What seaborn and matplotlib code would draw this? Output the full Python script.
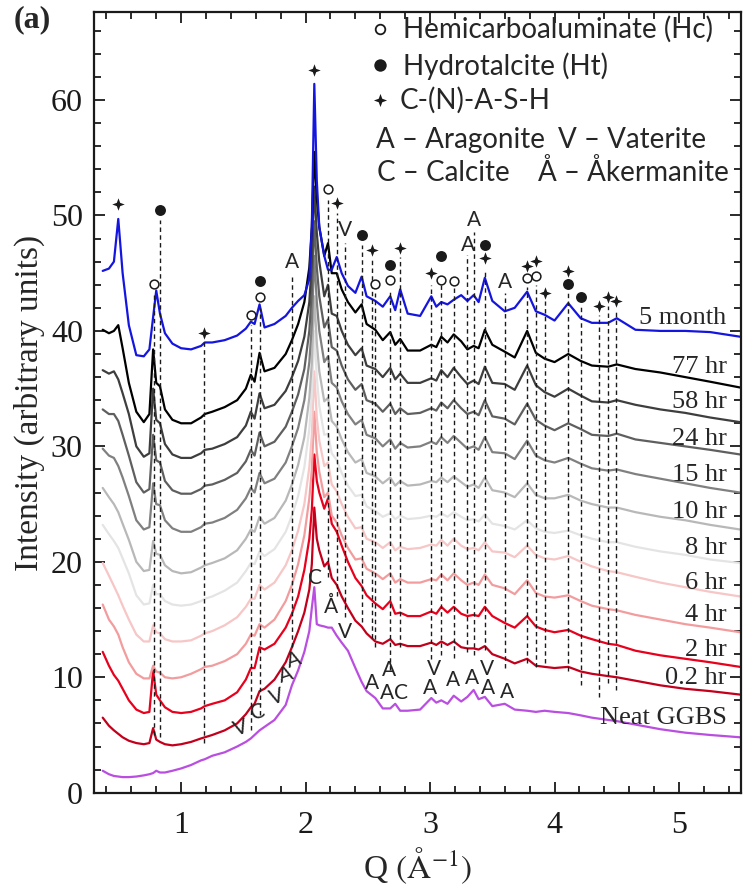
import matplotlib
matplotlib.use("Agg")
import numpy as np
import pandas as pd
import seaborn as sns
import matplotlib.pyplot as plt
from matplotlib.path import Path
from matplotlib.ticker import MultipleLocator

# ---------------- data ----------------
Q = [0.37, 0.42, 0.46, 0.495, 0.53, 0.58, 0.64, 0.70, 0.745, 0.775,
     0.80, 0.83, 0.87, 0.93, 1.00, 1.08, 1.16, 1.19, 1.25, 1.35,
     1.45, 1.52, 1.56, 1.59, 1.63, 1.67, 1.75, 1.84, 1.89, 1.94,
     1.99, 2.03, 2.05, 2.07, 2.09, 2.11, 2.15, 2.18, 2.21, 2.25,
     2.29, 2.34, 2.40, 2.45, 2.49, 2.56, 2.62, 2.68, 2.72, 2.76,
     2.82, 2.92, 3.01, 3.05, 3.09, 3.14, 3.19, 3.25, 3.30, 3.35,
     3.39, 3.44, 3.50, 3.60, 3.68, 3.78, 3.85, 3.92, 4.00, 4.11,
     4.21, 4.30, 4.43, 4.50, 4.65, 4.85, 5.05, 5.25, 5.49]

I_5month = [45.2, 45.4, 46.0, 49.7, 45.0, 40.5, 37.9, 37.8, 38.4, 41.2,
            43.5, 41.5, 39.8, 38.9, 38.5, 38.4, 38.7, 39.0, 39.0, 39.2,
            39.6, 40.2, 40.8, 40.6, 42.3, 40.3, 40.6, 41.3, 42.0, 42.6,
            43.1, 44.5, 49.0, 61.4, 53.0, 49.0, 46.5, 45.3, 45.3, 46.4,
            45.0, 43.9, 43.3, 44.7, 43.0, 42.6, 42.1, 43.0, 41.8, 43.6,
            41.5, 41.3, 43.0, 42.1, 42.5, 42.3, 42.7, 43.1, 42.6, 43.1,
            42.5, 44.6, 42.6, 41.7, 42.0, 43.4, 41.7, 41.4, 40.9, 42.4,
            41.1, 40.7, 40.7, 41.1, 40.1, 40.0, 40.0, 39.9, 39.5]
I_77hr = [40.1, 39.8, 40.0, 40.5, 38.5, 35.5, 33.0, 32.1, 32.8, 38.4,
          35.5, 35.2, 33.2, 32.3, 32.0, 32.0, 32.5, 32.8, 33.0, 33.4,
          34.0, 35.0, 36.2, 35.6, 38.1, 36.5, 36.8, 38.0, 39.2, 40.6,
          42.5, 45.5, 49.0, 55.5, 51.5, 49.0, 46.5, 47.6, 45.0, 45.0,
          43.6, 42.5, 41.6, 42.3, 40.6, 40.1, 39.2, 39.9, 38.8, 39.3,
          38.3, 38.3, 38.8, 38.6, 39.5, 39.0, 39.7, 39.1, 38.4, 38.7,
          38.5, 40.1, 38.8, 38.2, 37.7, 40.0, 38.1, 37.6, 37.3, 38.0,
          37.4, 37.0, 36.9, 37.1, 36.7, 36.4, 36.0, 35.6, 35.1]
I_58hr = [36.6, 36.3, 36.5, 35.8, 34.6, 32.8, 30.0, 29.1, 29.4, 35.0,
          32.3, 32.0, 30.2, 29.3, 29.0, 29.0, 29.4, 29.7, 29.8, 30.2,
          30.8, 31.8, 33.0, 32.4, 34.6, 33.3, 33.6, 34.8, 36.0, 37.4,
          39.5, 42.5, 46.0, 52.5, 48.5, 46.0, 43.0, 44.0, 41.5, 41.3,
          40.0, 38.8, 37.9, 38.5, 37.0, 36.7, 36.0, 36.8, 35.8, 36.3,
          35.5, 35.5, 35.9, 35.7, 36.6, 36.0, 36.8, 36.0, 35.4, 35.7,
          35.4, 36.9, 35.5, 35.4, 34.9, 37.0, 35.3, 34.7, 34.3, 35.0,
          34.4, 33.9, 33.8, 34.0, 33.6, 33.2, 32.9, 32.5, 32.1]
I_24hr = [33.2, 32.8, 32.8, 32.2, 31.0, 29.2, 26.9, 26.0, 26.3, 31.0,
          28.8, 28.6, 27.0, 26.2, 25.9, 25.9, 26.3, 26.6, 26.7, 27.1,
          27.7, 28.7, 29.7, 29.2, 31.2, 30.0, 30.4, 31.7, 33.0, 34.5,
          36.7, 40.0, 43.5, 49.5, 45.5, 43.0, 40.3, 41.0, 38.6, 38.3,
          37.0, 35.8, 34.9, 35.4, 34.0, 33.7, 33.0, 33.7, 32.8, 33.3,
          32.8, 32.9, 33.3, 33.1, 33.8, 33.3, 34.0, 33.3, 32.8, 33.0,
          32.7, 34.0, 32.6, 32.4, 31.9, 33.7, 32.3, 31.8, 31.4, 32.0,
          31.5, 31.0, 30.9, 31.1, 30.6, 30.3, 30.0, 29.7, 29.3]
I_15hr = [29.8, 29.2, 29.0, 28.3, 27.3, 25.7, 23.6, 22.8, 23.0, 26.8,
          25.0, 24.9, 23.6, 22.9, 22.6, 22.6, 23.0, 23.3, 23.4, 23.8,
          24.5, 25.5, 26.4, 26.0, 27.7, 26.8, 27.2, 28.6, 30.0, 31.6,
          34.0, 37.3, 40.5, 46.5, 42.5, 40.0, 37.3, 37.8, 35.5, 35.1,
          33.9, 32.8, 31.9, 32.3, 31.0, 30.7, 30.0, 30.6, 29.8, 30.3,
          29.9, 30.0, 30.4, 30.2, 30.8, 30.3, 30.9, 30.3, 29.8, 30.0,
          29.7, 30.8, 29.5, 29.4, 28.9, 30.5, 29.2, 28.8, 28.6, 29.0,
          28.5, 28.1, 27.9, 28.0, 27.6, 27.2, 26.8, 26.4, 26.0]
I_10hr = [26.4, 25.6, 25.0, 24.3, 23.3, 21.9, 20.0, 19.2, 19.3, 21.8,
          20.7, 20.6, 19.7, 19.2, 19.0, 19.1, 19.5, 19.7, 19.9, 20.3,
          21.0, 22.0, 22.8, 22.6, 23.9, 23.3, 23.8, 25.3, 26.7, 28.4,
          30.8, 34.2, 37.2, 43.0, 39.0, 36.5, 33.9, 34.2, 32.2, 31.7,
          30.6, 29.5, 28.6, 28.9, 27.7, 27.4, 26.8, 27.3, 26.6, 27.0,
          26.6, 26.7, 27.0, 26.9, 27.3, 26.9, 27.4, 26.9, 26.5, 26.7,
          26.4, 27.3, 26.2, 26.0, 25.6, 26.8, 25.8, 25.5, 25.5, 25.8,
          25.3, 25.0, 24.7, 24.7, 24.3, 23.9, 23.6, 23.2, 22.8]
I_8hr = [23.2, 22.4, 21.8, 21.2, 20.3, 19.0, 17.1, 16.3, 16.4, 18.0,
         17.2, 17.2, 16.6, 16.3, 16.2, 16.3, 16.6, 16.8, 17.0, 17.5,
         18.2, 19.2, 19.9, 19.8, 20.9, 20.5, 21.1, 22.6, 24.0, 25.7,
         28.2, 31.5, 34.5, 40.0, 36.0, 33.5, 31.0, 31.1, 29.4, 28.8,
         27.7, 26.6, 25.7, 25.8, 24.8, 24.4, 23.9, 24.2, 23.7, 24.0,
         23.7, 23.8, 24.0, 23.9, 24.2, 23.9, 24.3, 23.9, 23.6, 23.7,
         23.5, 24.1, 23.3, 23.1, 22.8, 23.6, 22.9, 22.6, 22.5, 22.7,
         22.3, 22.0, 21.7, 21.7, 21.3, 20.9, 20.6, 20.2, 19.9]
I_6hr = [19.9, 18.8, 17.9, 17.1, 16.2, 15.0, 13.7, 13.1, 13.1, 14.5,
         13.9, 13.8, 13.3, 13.1, 13.1, 13.2, 13.6, 13.8, 14.0, 14.5,
         15.2, 16.1, 16.8, 16.8, 18.0, 17.6, 18.2, 19.7, 21.0, 22.7,
         25.0, 28.2, 31.0, 36.5, 32.5, 30.5, 28.3, 28.6, 26.7, 26.1,
         25.0, 23.9, 22.9, 23.0, 22.0, 21.7, 21.2, 21.7, 21.0, 21.3,
         21.1, 21.2, 21.5, 21.4, 21.9, 21.4, 22.0, 21.4, 21.1, 21.2,
         21.0, 21.7, 20.9, 20.8, 20.4, 21.4, 20.6, 20.3, 20.2, 20.5,
         20.0, 19.6, 19.2, 19.1, 18.7, 18.2, 17.8, 17.4, 17.0]
I_4hr = [16.3, 15.0, 14.4, 13.7, 12.6, 11.3, 10.3, 9.9, 9.9, 11.0,
         10.5, 10.4, 10.0, 9.9, 10.0, 10.3, 10.7, 10.9, 11.0, 11.4,
         12.0, 12.9, 13.7, 13.6, 14.6, 14.3, 15.0, 16.6, 18.0, 19.8,
         22.3, 25.5, 28.0, 33.0, 29.5, 27.8, 25.6, 26.0, 24.0, 23.4,
         22.3, 21.2, 20.2, 20.3, 19.4, 19.0, 18.5, 19.0, 18.2, 18.5,
         18.2, 18.2, 18.5, 18.4, 18.9, 18.4, 19.0, 18.4, 18.0, 18.2,
         18.0, 18.9, 18.0, 17.7, 17.2, 18.4, 17.3, 17.0, 16.9, 17.1,
         16.6, 16.2, 15.9, 15.8, 15.4, 15.0, 14.6, 14.3, 13.9]
I_2hr = [12.2, 11.0, 10.2, 9.7, 9.0, 8.0, 7.2, 6.9, 7.0, 10.6,
         8.5, 8.0, 7.4, 7.0, 6.9, 7.0, 7.3, 7.5, 7.7, 8.0,
         8.7, 9.8, 10.8, 10.8, 12.6, 12.4, 12.9, 14.3, 15.5, 17.0,
         19.3, 22.0, 24.5, 29.3, 27.0, 26.0, 24.6, 25.5, 23.3, 22.6,
         21.4, 20.0, 18.6, 17.9, 17.1, 16.4, 15.9, 16.6, 15.5, 15.6,
         15.3, 15.3, 15.7, 15.5, 16.1, 15.6, 16.1, 15.5, 15.3, 15.4,
         15.3, 16.1, 15.3, 14.7, 14.3, 15.3, 14.4, 14.1, 13.9, 14.1,
         13.6, 13.3, 12.9, 12.8, 12.3, 11.9, 11.6, 11.3, 10.9]
I_02hr = [6.5, 5.8, 5.4, 5.1, 4.8, 4.5, 4.3, 4.2, 4.3, 5.6,
          4.6, 4.4, 4.2, 4.1, 4.2, 4.4, 4.7, 4.8, 5.0, 5.4,
          6.0, 6.8, 7.4, 7.7, 8.8, 9.0, 9.8, 11.3, 12.6, 14.0,
          15.6, 17.6, 19.8, 24.7, 22.0, 21.0, 19.6, 20.0, 18.6, 18.0,
          17.0, 16.0, 14.9, 14.4, 13.8, 13.1, 12.9, 13.3, 12.8, 12.9,
          12.7, 12.7, 13.0, 12.8, 13.1, 12.8, 13.1, 12.6, 12.5, 12.5,
          12.4, 12.7, 12.0, 11.6, 11.2, 11.6, 11.0, 10.9, 10.8, 10.9,
          10.5, 10.3, 10.1, 10.0, 9.7, 9.3, 9.0, 8.8, 8.5]
I_neat = [1.9, 1.6, 1.45, 1.4, 1.35, 1.35, 1.4, 1.5, 1.6, 1.7,
          1.9, 1.75, 1.75, 1.9, 2.1, 2.4, 2.8, 2.9, 3.2, 3.5,
          4.0, 4.4, 4.7, 5.0, 5.4, 5.7, 6.3, 7.6, 9.3, 10.6,
          12.2, 14.0, 16.0, 17.8, 14.6, 14.5, 14.4, 14.3, 14.3, 13.6,
          13.0, 12.3, 10.8, 9.6, 8.8, 8.2, 7.3, 7.3, 7.7, 7.1,
          7.1, 7.2, 8.2, 7.8, 8.0, 7.7, 8.4, 7.9, 8.3, 8.9,
          8.1, 8.3, 7.5, 7.7, 7.2, 7.1, 7.0, 7.1, 7.0, 6.9,
          6.7, 6.5, 6.3, 6.2, 5.9, 5.5, 5.2, 5.0, 4.8]

samples = ["Neat GGBS", "0.2 hr", "2 hr", "4 hr", "6 hr", "8 hr", "10 hr",
           "15 hr", "24 hr", "58 hr", "77 hr", "5 month"]
curves = [I_neat, I_02hr, I_2hr, I_4hr, I_6hr, I_8hr, I_10hr,
          I_15hr, I_24hr, I_58hr, I_77hr, I_5month]
colors = ["#b94ee0", "#c2001c", "#e8001c", "#f29c9e", "#f7c6c6", "#e4e4e4",
          "#b8b8b8", "#808080", "#5f5f5f", "#3e3e3e", "#000000", "#1515e0"]
label_y = [6.5, 9.9, 12.4, 15.4, 18.2, 21.2, 24.3, 27.5, 30.6, 33.8, 36.9, 41.1]

# reference (dashed) lines
vline_q = [0.78, 0.83, 1.185, 1.56, 1.63, 1.89, 2.18, 2.25, 2.32, 2.45, 2.53,
           2.56, 2.68, 2.76, 3.01, 3.09, 3.19, 3.30, 3.35, 3.44, 3.60, 3.78,
           3.85, 3.92, 4.11, 4.21, 4.36, 4.43, 4.49]
vline_top = [43.3, 49.6, 39.0, 40.5, 42.0, 44.8, 51.3, 50.2, 47.6, 47.4, 46.2,
             43.3, 43.5, 46.4, 44.0, 44.4, 44.2, 46.6, 48.6, 45.4, 43.3, 43.8,
             44.0, 42.6, 43.3, 42.2, 41.4, 42.2, 41.9]
vline_bot = [5.0, 4.8, 4.3, 5.4, 6.7, 12.6, 18.7, 17.0, 15.2, 14.8, 13.4, 12.6,
             10.6, 12.6, 11.6, 11.9, 11.7, 12.2, 11.9, 12.4, 10.8, 11.2, 10.9,
             11.2, 10.5, 9.3, 8.3, 9.5, 8.9]

# phase markers
star_q = [0.494, 1.185, 2.07, 2.25, 2.53, 2.76, 3.01, 3.44, 3.78, 3.85, 3.92,
          4.11, 4.36, 4.43, 4.49]
star_i = [51.0, 39.8, 62.6, 51.1, 47.0, 47.2, 45.0, 46.3, 45.6, 46.1, 43.3,
          45.2, 42.2, 42.9, 42.6]
dot_q = [0.83, 1.63, 2.45, 2.68, 3.09, 3.44, 4.11, 4.21]
dot_i = [50.5, 44.3, 48.3, 45.7, 46.5, 47.4, 44.1, 42.9]
circ_q = [0.78, 1.56, 1.63, 2.18, 2.56, 2.68, 3.09, 3.19, 3.78, 3.85]
circ_i = [44.1, 41.4, 42.9, 52.3, 44.1, 44.4, 44.4, 44.3, 44.6, 44.8]

# phase letters: (text, Q, I, rotation)
letters = [("A", 1.891, 46.0, 0), ("V", 2.316, 48.7, 0), ("A", 3.352, 49.6, 0),
           ("A", 3.303, 47.4, 0), ("A", 3.600, 44.2, 0),
           ("C", 2.075, 18.6, 0), ("Å", 2.204, 16.1, 0), ("V", 2.316, 13.9, 0),
           ("A", 2.533, 9.5, 0), ("A", 2.669, 10.6, 0), ("A", 2.653, 8.6, 0),
           ("C", 2.766, 8.6, 0), ("A", 2.998, 9.1, 0), ("V", 3.030, 10.7, 0),
           ("A", 3.183, 9.76, 0), ("A", 3.335, 9.93, 0), ("V", 3.456, 10.75, 0),
           ("A", 3.464, 9.1, 0), ("A", 3.616, 8.72, 0),
           ("V", 1.48, 5.6, 18), ("C", 1.618, 7.0, 18), ("V", 1.77, 8.3, 18),
           ("A", 1.84, 10.2, 18), ("A", 1.905, 11.5, 18)]

# ---------------- plot ----------------
sns.set_theme(style="ticks")
plt.rcParams['font.family'] = ['Liberation Serif', 'DejaVu Serif']
plt.rcParams['mathtext.fontset'] = 'stix'
SANS = ['Lato', 'DejaVu Sans']

fig = plt.figure(figsize=(7.43, 8.86), dpi=100)
ax = fig.add_axes([94 / 743, 1 - 792.7 / 886, (740.5 - 94) / 743, (792.7 - 12.3) / 886])

df = pd.concat([pd.DataFrame({"Q": Q, "I": v, "sample": s})
                for s, v in zip(samples, curves)], ignore_index=True)
sns.lineplot(data=df, x="Q", y="I", hue="sample", hue_order=samples,
             palette=colors, legend=False, ax=ax, linewidth=1.6,
             estimator=None, errorbar=None, sort=False)

ax.vlines(vline_q, vline_bot, vline_top, colors="k", linestyles=(0, (3.2, 2.4)),
          linewidth=1.0, zorder=3)

star_path = Path.unit_regular_star(4, 0.38)
ax.scatter(star_q, star_i, marker=star_path, s=80, c="k", linewidths=0, zorder=5)
ax.scatter(dot_q, dot_i, marker="o", s=62, c="k", linewidths=0, zorder=5)
ax.scatter(circ_q, circ_i, marker="o", s=40, facecolors="white",
           edgecolors="k", linewidths=1.1, zorder=5)

for t, q, i, r in letters:
    ax.text(q, i, t, fontsize=15, family=SANS, ha="center", va="center",
            rotation=r, zorder=6)

for s, y in zip(samples, label_y):
    ax.text(5.382, y, s, fontsize=19, ha="right", va="center", zorder=6)

# legend block
ax.scatter([2.597], [66.15], marker="o", s=48, facecolors="white",
           edgecolors="k", linewidths=1.3, zorder=6, clip_on=False)
ax.scatter([2.597], [63.0], marker="o", s=80, c="k", linewidths=0, zorder=6)
ax.scatter([2.597], [60.0], marker=star_path, s=90, c="k", linewidths=0, zorder=6)
LF = 20
ax.text(2.782, 66.15, "Hemicarboaluminate (Hc)", fontsize=LF, family=SANS, va="center")
ax.text(2.782, 62.95, "Hydrotalcite (Ht)", fontsize=LF, family=SANS, va="center")
ax.text(2.758, 60.0, "C-(N)-A-S-H", fontsize=LF, family=SANS, va="center")
ax.text(2.565, 56.5, "A – Aragonite", fontsize=LF, family=SANS, va="center")
ax.text(4.026, 56.5, "V – Vaterite", fontsize=LF, family=SANS, va="center")
ax.text(2.573, 53.7, "C – Calcite", fontsize=LF, family=SANS, va="center")
ax.text(3.865, 53.7, "Å – Åkermanite", fontsize=LF, family=SANS, va="center")

ax.set_xlim(0.30, 5.494)
ax.set_ylim(0, 67.6)
ax.xaxis.set_major_locator(MultipleLocator(1))
ax.xaxis.set_minor_locator(MultipleLocator(0.2))
ax.yaxis.set_major_locator(MultipleLocator(10))
ax.yaxis.set_minor_locator(MultipleLocator(2))
ax.tick_params(which="both", direction="in", top=True, right=True,
               colors="k", width=1.3)
ax.tick_params(which="major", length=8, labelsize=23)
ax.tick_params(axis="y", which="major", pad=8)
ax.tick_params(axis="x", which="major", pad=13)
ax.tick_params(which="minor", length=5)
for sp in ax.spines.values():
    sp.set_linewidth(1.6)
    sp.set_color("k")

ax.set_xlabel("Q $(\\mathrm{\\AA}^{-1})$", fontsize=24, labelpad=4)
ax.set_ylabel("Intensity (arbitrary units)", fontsize=24, labelpad=4)

fig.text(32 / 743, 1 - 20 / 886, "(a)", fontsize=23, fontweight="bold",
         ha="center", va="center")

fig.savefig("out.png", dpi=100)
